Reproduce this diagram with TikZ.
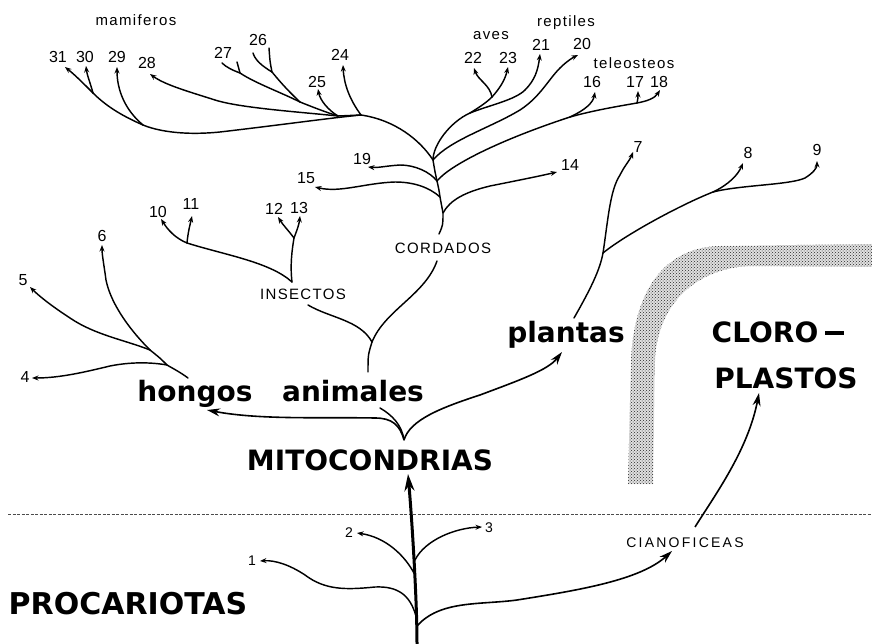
\documentclass[tikz,border=0pt]{standalone}
\usepackage{fontspec}
\setmainfont{Liberation Sans}
\newfontfamily\heavyfont{DejaVu Sans}
\newfontfamily\widefont[LetterSpace=9]{Liberation Sans}
\newfontfamily\widerfont[LetterSpace=16]{Liberation Sans}
\usetikzlibrary{arrows.meta}
\usetikzlibrary{patterns}

\begin{document}
\begin{tikzpicture}[x=1pt,y=-1pt,
    branch/.style={line width=1.45pt,line cap=round},
    tip/.style={branch,-{Stealth[length=6.5pt,width=5pt]}},
    bigtip/.style={line width=1.6pt,-{Stealth[length=13pt,width=8pt]}},
    trunk/.style={line width=3pt,-{Stealth[length=17pt,width=10pt]}},
    num/.style={inner sep=0pt,font=\fontsize{16}{16}\selectfont},
    smallnum/.style={inner sep=0pt,font=\fontsize{14}{14}\selectfont},
    group/.style={inner sep=0pt,font=\widefont\fontsize{15}{15}\selectfont},
    caps/.style={inner sep=0pt,font=\widefont\fontsize{15}{15}\selectfont},
    kingdom/.style={inner sep=0pt,anchor=base,font=\heavyfont\bfseries\fontsize{28}{28}\selectfont},
    dashline/.style={line width=0.6pt,dash pattern=on 3pt off 1.5pt,black!70},
    band/.style={fill=black!12,postaction={pattern=crosshatch dots,pattern color=black!85}}]
    \useasboundingbox (0,0) rectangle (872,644);
    %\draw[step=50, gray,very thin] (0,0) grid (872,644);

    % chloroplast band and the dashed border
    \path[band] (628,484) -- (631,360) .. controls (634,290) and (665,247) .. (720,246)
        -- (872,244) -- (872,267) -- (750,266) .. controls (700,268) and (658,300) .. (655,360)
        -- (653,484) -- cycle;
    \coordinate (dl) at (8,514);
    \coordinate (dr) at (872,514);
    \draw[dashline] (dl) -- (dr);

    % labels
    \node[kingdom,font=\heavyfont\bfseries\fontsize{30}{30}\selectfont] (procar) at (128,614) {PROCARIOTAS};
    \node[kingdom] (mito) at (370,470) {MITOCONDRIAS};
    \node[kingdom] (hongos) at (195,401) {hongos};
    \node[kingdom] (animales) at (353,401) {animales};
    \node[kingdom] (plantas) at (566,342) {plantas};
    \node[kingdom] (cloro) at (778,342) {CLORO\hspace{7pt}\rule[7.5pt]{19pt}{3.6pt}};
    \node[kingdom] (plastos) at (786,388) {PLASTOS};
    \node[inner sep=0pt,font=\widerfont\fontsize{14}{14}\selectfont] (cianof) at (685,543) {CIANOFICEAS};
    \node[caps] (insectos) at (303,294) {INSECTOS};
    \node[caps] (cordados) at (443,248) {CORDADOS};
    \node[group] (mamif) at (136,20) {mamiferos};
    \node[group] (aves) at (491,36) {aves};
    \node[group] (reptiles) at (566,23) {reptiles};
    \node[group] (teleost) at (634,63) {teleosteos};

    \node[smallnum] (n1) at (252,561) {1};
    \node[smallnum] (n2) at (349,533) {2};
    \node[smallnum] (n3) at (489,528) {3};
    \node[num] (n4) at (25,377) {4};
    \node[num] (n5) at (23,280) {5};
    \node[num] (n6) at (102,236) {6};
    \node[num] (n7) at (638,147) {7};
    \node[num] (n8) at (748,153) {8};
    \node[num] (n9) at (817,150) {9};
    \node[num] (n10) at (158,212) {10};
    \node[num] (n11) at (191,204) {11};
    \node[num] (n12) at (274,209) {12};
    \node[num] (n13) at (299,208) {13};
    \node[num] (n14) at (570,165) {14};
    \node[num] (n15) at (306,178) {15};
    \node[num] (n16) at (592,82) {16};
    \node[num] (n17) at (635,82) {17};
    \node[num] (n18) at (659,82) {18};
    \node[num] (n19) at (362,159) {19};
    \node[num] (n20) at (582,44) {20};
    \node[num] (n21) at (541,45) {21};
    \node[num] (n22) at (473,58) {22};
    \node[num] (n23) at (508,58) {23};
    \node[num] (n24) at (340,55) {24};
    \node[num] (n25) at (317,82) {25};
    \node[num] (n26) at (258,40) {26};
    \node[num] (n27) at (223,53) {27};
    \node[num] (n28) at (147,63) {28};
    \node[num] (n29) at (117,57) {29};
    \node[num] (n30) at (85,57) {30};
    \node[num] (n31) at (58,57) {31};

    % procariotas
    \coordinate (root) at (417,644);
    \coordinate (j0) at (417,626);
    \coordinate (j1) at (416,616);
    \coordinate (j2) at (415,575);
    \coordinate (j3) at (415,560);
    \coordinate (mitotip) at (408,474);
    \coordinate (t1) at (260,561);
    \coordinate (t2) at (357,533);
    \coordinate (t3) at (482,527);
    \coordinate (tcian) at (672,551);
    \coordinate (cian) at (695,527);
    \coordinate (tcloro) at (759,393);
    \draw[trunk] (root) .. controls (417,600) and (412,520) .. (mitotip);
    \draw[tip] (j1) .. controls (410,595) and (398,586) .. (375,587)
        .. controls (345,590) and (325,590) .. (305,575) .. controls (290,565) and (275,560) .. (t1);
    \draw[tip] (j2) .. controls (405,555) and (385,537) .. (t2);
    \draw[tip] (j3) .. controls (425,540) and (455,528) .. (t3);
    \draw[bigtip] (j0) .. controls (440,600) and (480,605) .. (517,600)
        .. controls (580,590) and (640,580) .. (tcian);
    \draw[bigtip] (cian) .. controls (715,495) and (748,450) .. (tcloro);

    % mitocondrias
    \coordinate (mfork) at (404,440);
    \coordinate (astub) at (380,408);
    \coordinate (thongos) at (207,410);
    \coordinate (tplantas) at (562,352);
    \draw[branch] (astub) .. controls (392,415) and (402,425) .. (mfork);
    \draw[bigtip] (mfork) .. controls (400,425) and (392,418) .. (375,418)
        .. controls (320,417) and (260,420) .. (thongos);
    \draw[bigtip] (mfork) .. controls (410,420) and (440,408) .. (480,395)
        .. controls (520,380) and (548,370) .. (tplantas);

    % hongos
    \coordinate (hbase) at (188,378);
    \coordinate (h4) at (167,365);
    \coordinate (h5) at (150,350);
    \coordinate (t4) at (32,378);
    \coordinate (t5) at (30,287);
    \coordinate (t6) at (102,245);
    \draw[branch] (hbase) .. controls (180,372) and (172,368) .. (h4) .. controls (160,358) .. (h5);
    \draw[tip] (h4) .. controls (150,362) and (130,362) .. (110,366)
        .. controls (85,372) and (60,378) .. (t4);
    \draw[tip] (h5) .. controls (125,340) and (95,335) .. (70,318)
        .. controls (50,305) and (38,295) .. (t5);
    \draw[tip] (h5) .. controls (125,325) and (110,300) .. (106,280)
        .. controls (104,265) and (102,255) .. (t6);

    % animales
    \coordinate (abase) at (368,372);
    \coordinate (afork) at (372,342);
    \coordinate (ins) at (308,305);
    \coordinate (cord) at (437,261);
    \draw[branch] (abase) .. controls (368,355) .. (afork);
    \draw[branch] (afork) .. controls (360,320) and (330,318) .. (ins);
    \draw[branch] (afork) .. controls (385,310) and (425,295) .. (cord);

    % insectos
    \coordinate (itop) at (292,282);
    \coordinate (i1) at (187,243);
    \coordinate (i2) at (294,238);
    \coordinate (t10) at (161,219);
    \coordinate (t11) at (192,216);
    \coordinate (t12) at (278,217);
    \coordinate (t13) at (300,216);
    \draw[branch] (itop) .. controls (270,262) and (225,255) .. (i1);
    \draw[tip] (i1) .. controls (175,238) and (168,230) .. (t10);
    \draw[tip] (i1) .. controls (188,232) and (190,225) .. (t11);
    \draw[branch] (itop) .. controls (290,265) and (292,250) .. (i2);
    \draw[tip] (i2) .. controls (288,230) and (283,225) .. (t12);
    \draw[tip] (i2) .. controls (297,230) and (299,225) .. (t13);

    % cordados
    \coordinate (ctop) at (439,234);
    \coordinate (c14) at (443,213);
    \coordinate (c15) at (440,197);
    \coordinate (c19) at (437,181);
    \coordinate (c20) at (433,160);
    \coordinate (cav) at (470,113);
    \coordinate (kav) at (492,97);
    \coordinate (k16) at (570,117);
    \coordinate (k17) at (637,103);
    \coordinate (t14) at (557,172);
    \coordinate (t15) at (315,187);
    \coordinate (t16) at (595,92);
    \coordinate (t17) at (638,91);
    \coordinate (t18) at (660,90);
    \coordinate (t19) at (368,167);
    \coordinate (t20) at (578,55);
    \coordinate (t21) at (540,54);
    \coordinate (t22) at (474,68);
    \coordinate (t23) at (508,67);
    \draw[branch] (ctop) .. controls (443,225) .. (c14) .. controls (442,205) .. (c15)
        .. controls (439,190) .. (c19) .. controls (435,172) .. (c20)
        .. controls (433,145) and (450,122) .. (cav);
    \draw[tip] (c14) .. controls (450,200) and (465,192) .. (490,186)
        .. controls (520,180) and (540,176) .. (t14);
    \draw[tip] (c15) .. controls (430,188) and (415,182) .. (395,182)
        .. controls (365,183) and (340,193) .. (t15);
    \draw[tip] (c19) .. controls (430,172) and (415,165) .. (400,165)
        .. controls (385,166) and (378,168) .. (t19);
    \draw[branch] (c19) .. controls (450,165) and (500,140) .. (k16);
    \draw[tip] (k16) .. controls (585,110) and (593,103) .. (t16);
    \draw[branch] (k16) .. controls (595,110) and (620,106) .. (k17);
    \draw[tip] (k17) .. controls (638,98) .. (t17);
    \draw[tip] (k17) .. controls (648,101) and (655,98) .. (t18);
    \draw[tip] (c20) .. controls (450,140) and (490,128) .. (520,110)
        .. controls (540,97) and (548,80) .. (560,68) .. controls (566,62) and (572,58) .. (t20);
    \draw[tip] (cav) .. controls (490,105) and (515,100) .. (525,90)
        .. controls (535,80) and (538,70) .. (t21);
    \draw[branch] (cav) .. controls (478,108) and (486,103) .. (kav);
    \draw[tip] (kav) .. controls (490,85) and (478,80) .. (t22);
    \draw[tip] (kav) .. controls (500,88) and (505,80) .. (t23);

    % mamiferos
    \coordinate (mjoin) at (361,115);
    \coordinate (mj2) at (338,116);
    \coordinate (k26) at (300,102);
    \coordinate (k26b) at (272,72);
    \coordinate (k27) at (240,73);
    \coordinate (k29) at (143,125);
    \coordinate (k30) at (93,93);
    \coordinate (t24) at (343,65);
    \coordinate (t25) at (318,89);
    \coordinate (e26a) at (253,53);
    \coordinate (e26b) at (269,48);
    \coordinate (e27a) at (222,63);
    \coordinate (e27b) at (237,62);
    \coordinate (t28) at (150,74);
    \coordinate (t29) at (117,67);
    \coordinate (t30) at (86,66);
    \coordinate (t31) at (65,67);
    \draw[branch] (c20) .. controls (420,140) and (395,120) .. (mjoin) -- (mj2);
    \draw[tip] (mjoin) .. controls (350,100) and (344,85) .. (t24);
    \draw[tip] (mj2) .. controls (328,110) and (320,100) .. (t25);
    \draw[branch] (mj2) .. controls (325,112) and (310,106) .. (k26)
        .. controls (280,92) and (255,83) .. (k27);
    \draw[branch] (k27) .. controls (232,70) and (226,67) .. (e27a);
    \draw[branch] (k27) .. controls (239,68) .. (e27b);
    \draw[branch] (k26) .. controls (285,88) and (277,78) .. (k26b);
    \draw[branch] (k26b) .. controls (262,66) and (255,60) .. (e26a);
    \draw[branch] (k26b) .. controls (270,62) .. (e26b);
    \draw[tip] (mj2) .. controls (300,112) and (240,108) .. (215,100)
        .. controls (190,92) and (165,85) .. (t28);
    \draw[branch] (mjoin) .. controls (330,118) and (280,125) .. (220,132)
        .. controls (180,136) and (155,130) .. (k29);
    \draw[tip] (k29) .. controls (125,110) and (117,90) .. (t29);
    \draw[branch] (k29) .. controls (120,115) and (105,105) .. (k30);
    \draw[tip] (k30) .. controls (90,82) and (87,75) .. (t30);
    \draw[tip] (k30) .. controls (83,83) and (75,75) .. (t31);

    % plantas
    \coordinate (pbase) at (574,318);
    \coordinate (pfork) at (603,253);
    \coordinate (k8) at (713,192);
    \coordinate (t7) at (633,152);
    \coordinate (t8) at (743,163);
    \coordinate (t9) at (817,161);
    \draw[branch] (pbase) .. controls (590,290) and (600,270) .. (pfork);
    \draw[tip] (pfork) .. controls (608,220) and (610,190) .. (620,175)
        .. controls (625,165) and (630,160) .. (t7);
    \draw[branch] (pfork) .. controls (625,235) and (680,205) .. (k8);
    \draw[tip] (k8) .. controls (728,185) and (738,175) .. (t8);
    \draw[tip] (k8) .. controls (740,185) and (790,185) .. (805,178)
        .. controls (813,173) and (817,168) .. (t9);
\end{tikzpicture}
\end{document}
